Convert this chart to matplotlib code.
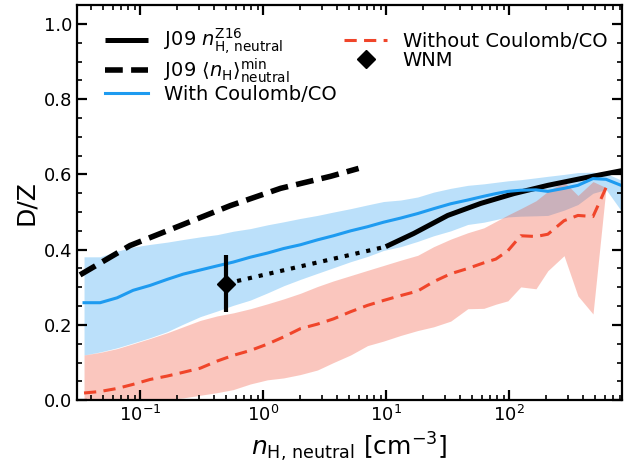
import numpy as np
import matplotlib
matplotlib.use('Agg')
import matplotlib.pyplot as plt
from matplotlib.ticker import MultipleLocator
from matplotlib.lines import Line2D

# Binned density grid (cm^-3)
n_grid = [0.0348, 0.0470, 0.0646, 0.0873, 0.120, 0.165, 0.223, 0.307, 0.422, 0.569,
          0.784, 1.08, 1.46, 2.00, 2.75, 3.72, 5.12, 7.04, 9.50, 13.1,
          18.0, 24.3, 33.4, 46.0, 62.1, 77.8, 97.4, 124, 165, 206,
          279, 362, 480, 613, 812]

# With Coulomb/CO: median and spread
with_med = [0.259, 0.259, 0.272, 0.292, 0.305, 0.321, 0.335, 0.346, 0.357, 0.367,
            0.380, 0.391, 0.403, 0.413, 0.426, 0.437, 0.450, 0.461, 0.473, 0.484,
            0.496, 0.509, 0.522, 0.532, 0.542, 0.549, 0.555, 0.558, 0.559, 0.555,
            0.563, 0.571, 0.589, 0.587, 0.571]
with_hi = [0.381, 0.381, 0.396, 0.407, 0.414, 0.420, 0.427, 0.434, 0.440, 0.449,
           0.456, 0.466, 0.474, 0.483, 0.491, 0.500, 0.509, 0.519, 0.528, 0.532,
           0.540, 0.553, 0.563, 0.571, 0.575, 0.579, 0.583, 0.586, 0.591, 0.595,
           0.600, 0.605, 0.606, 0.603, 0.585]
with_lo = [0.120, 0.128, 0.139, 0.152, 0.166, 0.182, 0.202, 0.222, 0.237, 0.252,
           0.266, 0.285, 0.304, 0.321, 0.337, 0.352, 0.368, 0.382, 0.398, 0.408,
           0.422, 0.437, 0.450, 0.467, 0.473, 0.480, 0.487, 0.489, 0.490, 0.491,
           0.505, 0.520, 0.550, 0.560, 0.504]

# Without Coulomb/CO (stops one bin earlier)
wo_med = [0.019, 0.023, 0.031, 0.042, 0.055, 0.064, 0.074, 0.085, 0.104, 0.119,
          0.132, 0.149, 0.168, 0.190, 0.202, 0.216, 0.235, 0.252, 0.265, 0.278,
          0.290, 0.315, 0.336, 0.350, 0.365, 0.375, 0.397, 0.437, 0.435, 0.441,
          0.477, 0.491, 0.488, 0.565]
wo_hi = [0.120, 0.127, 0.137, 0.150, 0.164, 0.179, 0.195, 0.212, 0.224, 0.232,
         0.243, 0.256, 0.269, 0.284, 0.302, 0.317, 0.331, 0.345, 0.358, 0.372,
         0.385, 0.408, 0.428, 0.445, 0.458, 0.475, 0.492, 0.509, 0.530, 0.555,
         0.581, 0.544, 0.581, 0.565]
wo_lo = [0.0, 0.0, 0.0, 0.0, 0.0, 0.002, 0.006, 0.013, 0.020, 0.028,
         0.043, 0.054, 0.059, 0.068, 0.080, 0.100, 0.120, 0.145, 0.157, 0.172,
         0.185, 0.195, 0.210, 0.243, 0.244, 0.255, 0.264, 0.301, 0.296, 0.344,
         0.384, 0.277, 0.229, 0.565]

# J09 relations
j09_n = [9.9, 16.7, 31.6, 58.7, 109, 206, 383, 850]
j09_dz = [0.408, 0.443, 0.491, 0.523, 0.549, 0.571, 0.589, 0.611]
j09min_n = [0.0323, 0.0824, 0.211, 0.538, 1.38, 3.52, 5.95]
j09min_dz = [0.333, 0.411, 0.464, 0.517, 0.563, 0.595, 0.616]

# WNM point
wnm_n = 0.5
wnm_dz = 0.31
wnm_err = 0.075

blue = '#1E9BF0'
red = '#F0452A'

fig = plt.figure(figsize=(6.26, 4.68), dpi=100)
ax = fig.add_axes([0.123, 0.145, 0.871, 0.844])

n_wo = n_grid[:len(wo_med)]
ax.fill_between(n_grid, with_lo, with_hi, color=blue, alpha=0.3, lw=0)
ax.fill_between(n_wo, wo_lo, wo_hi, color=red, alpha=0.3, lw=0)

l1, = ax.plot(j09_n, j09_dz, color='k', lw=3.6, solid_capstyle='butt')
l2, = ax.plot(j09min_n, j09min_dz, color='k', lw=4, dashes=(3.2, 1.5))
ax.plot([wnm_n, j09_n[0]], [wnm_dz, j09_dz[0]], color='k', lw=3, ls=':')
l3, = ax.plot(n_grid, with_med, color=blue, lw=2.2)
l4, = ax.plot(n_wo, wo_med, color=red, lw=2.2, dashes=(4, 2.4))
ax.errorbar(wnm_n, wnm_dz, yerr=wnm_err, fmt='D', color='k', ms=9,
            elinewidth=3, capsize=0)
l5 = Line2D([], [], marker='D', color='k', ms=9, ls='none')

ax.set_xscale('log')
ax.set_xlim(0.0305, 830)
ax.set_ylim(0, 1.05)
ax.yaxis.set_major_locator(MultipleLocator(0.2))
ax.yaxis.set_minor_locator(MultipleLocator(0.05))
ax.tick_params(which='both', direction='in', top=True, right=True, labelsize=13)
ax.tick_params(which='major', length=7, width=1.6)
ax.tick_params(which='minor', length=3.5, width=1.2)
for s in ax.spines.values():
    s.set_linewidth(1.6)

ax.set_xlabel(r'$n_{\rm H,\,neutral}$ [cm$^{-3}$]', fontsize=18)
ax.set_ylabel('D/Z', fontsize=18)

ax.legend([l1, l2, l3, l4, l5],
          [r'J09 $n_{\rm H,\,neutral}^{\rm Z16}$',
           r'J09 $\langle n_{\rm H}\rangle_{\rm neutral}^{\rm min}$',
           'With Coulomb/CO', 'Without Coulomb/CO', 'WNM'],
          ncol=2, frameon=False, fontsize=14, loc='upper left',
          bbox_to_anchor=(0.02, 0.99), columnspacing=0.4, handlelength=2.2,
          labelspacing=0.0)

fig.savefig('out.png', dpi=100)
